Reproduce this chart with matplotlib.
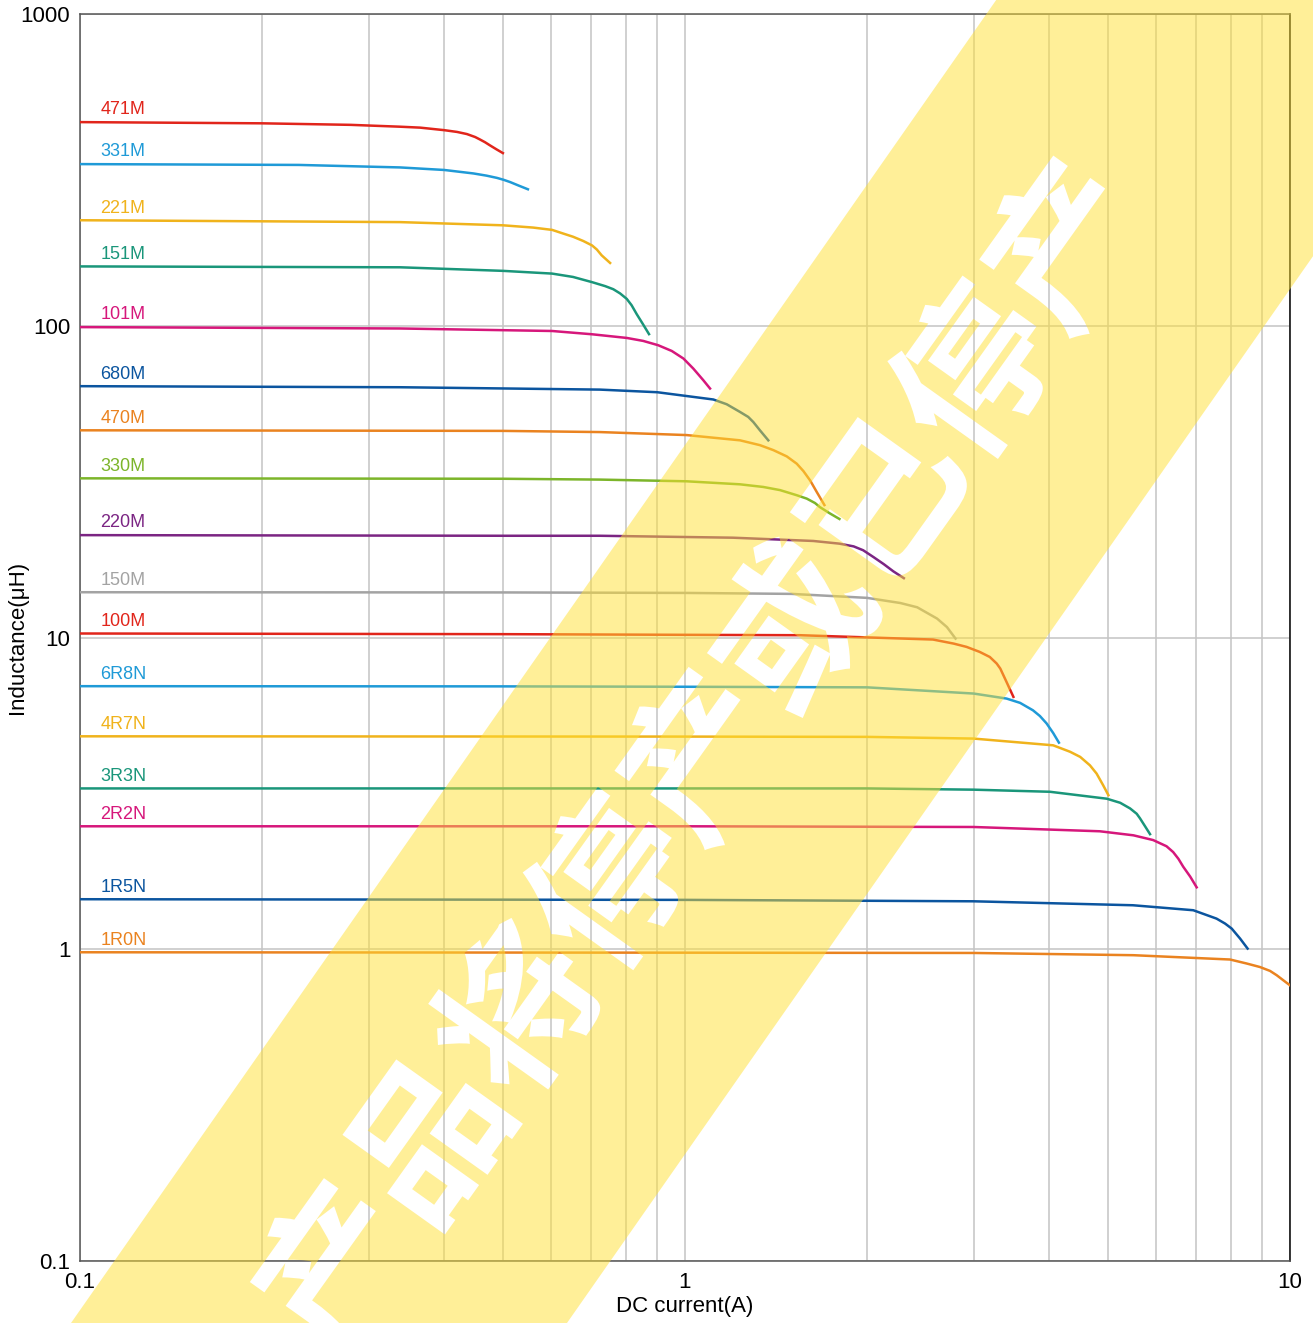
import numpy as np
import matplotlib
matplotlib.use("Agg")
import matplotlib.pyplot as plt
from matplotlib.path import Path
from matplotlib.patches import PathPatch
from matplotlib.textpath import TextPath
from matplotlib.font_manager import FontProperties
from matplotlib.transforms import Affine2D
from matplotlib.ticker import FixedLocator, LogLocator, NullLocator

plt.rcParams['font.family'] = ['Liberation Sans', 'DejaVu Sans']

W, H = 1313, 1323

# Courbes inductance / courant
labels = ["471M", "331M", "221M", "151M", "101M", "680M", "470M", "330M", "220M",
          "150M", "100M", "6R8N", "4R7N", "3R3N", "2R2N", "1R5N", "1R0N"]
colors = ["#e1251b", "#1f9ad7", "#f0b31c", "#1a967a", "#d6177b", "#0b559f", "#ea8320",
          "#7cb52a", "#7b2583", "#a3a3a3", "#e1251b", "#1f9ad7", "#f0b31c", "#1a967a",
          "#d6177b", "#0b559f", "#ea8320"]

currents = [
    [0.1, 0.2, 0.28, 0.338, 0.365, 0.40, 0.42, 0.436, 0.45, 0.458, 0.467, 0.476, 0.488, 0.50],
    [0.1, 0.23, 0.338, 0.40, 0.447, 0.470, 0.489, 0.501, 0.514, 0.530, 0.55],
    [0.1, 0.338, 0.5, 0.561, 0.603, 0.629, 0.653, 0.679, 0.702, 0.715, 0.728, 0.752],
    [0.1, 0.338, 0.5, 0.603, 0.653, 0.702, 0.738, 0.761, 0.781, 0.801, 0.816, 0.832, 0.851, 0.872],
    [0.1, 0.338, 0.603, 0.702, 0.801, 0.853, 0.903, 0.951, 0.994, 1.032, 1.072, 1.10],
    [0.1, 0.338, 0.723, 0.90, 1.114, 1.172, 1.233, 1.272, 1.297, 1.33, 1.373],
    [0.1, 0.5, 0.723, 1.006, 1.233, 1.33, 1.40, 1.473, 1.53, 1.569, 1.61, 1.651, 1.70],
    [0.1, 0.5, 0.723, 1.006, 1.233, 1.347, 1.436, 1.53, 1.589, 1.64, 1.671, 1.736, 1.80],
    [0.1, 0.5, 0.723, 1.20, 1.63, 1.80, 1.90, 1.97, 2.05, 2.13, 2.21, 2.30],
    [0.1, 0.5, 1.0, 1.5, 2.0, 2.27, 2.42, 2.61, 2.71, 2.80],
    [0.1, 0.5, 1.0, 1.55, 2.57, 2.78, 2.92, 3.07, 3.19, 3.275, 3.32, 3.40, 3.49],
    [0.1, 0.5, 1.0, 2.0, 3.0, 3.40, 3.58, 3.76, 3.86, 3.96, 4.06, 4.15],
    [0.1, 1.0, 2.0, 3.0, 4.06, 4.33, 4.50, 4.67, 4.79, 4.91, 5.01],
    [0.1, 1.0, 2.0, 3.0, 4.01, 4.98, 5.24, 5.44, 5.58, 5.65, 5.76, 5.87],
    [0.1, 1.0, 3.0, 4.85, 5.51, 5.94, 6.25, 6.41, 6.54, 6.66, 6.84, 7.01],
    [0.1, 1.0, 3.0, 5.5, 6.92, 7.56, 7.81, 8.01, 8.27, 8.51],
    [0.1, 1.0, 3.0, 5.51, 7.96, 8.48, 8.92, 9.27, 9.51, 9.75, 10.0],
]
inductances = [
    [450, 446, 441, 435, 432, 424, 418.5, 412, 403, 396, 388, 379, 368, 358],
    [330, 328, 322, 316, 308, 303, 298, 294, 289, 282, 274],
    [218, 215, 210, 206.5, 203, 197.6, 193, 187, 181, 175.6, 168.3, 159],
    [155, 154, 150, 147, 143.4, 138, 134, 131, 127, 122, 116.4, 109, 101.6, 94],
    [99, 98, 96.2, 93.9, 91.4, 89.4, 86.6, 83.0, 78.5, 72.9, 66.9, 62.9],
    [64, 63.5, 62.4, 61.2, 58.0, 56.0, 52.9, 51.0, 49.1, 46.2, 42.9],
    [46.2, 46.0, 45.6, 44.6, 42.9, 41.4, 39.9, 38.1, 36.1, 34.2, 31.9, 29.3, 26.6],
    [32.4, 32.3, 32.1, 31.7, 31.0, 30.4, 29.7, 28.6, 27.9, 27.0, 26.2, 25.0, 24.0],
    [21.3, 21.2, 21.2, 20.9, 20.4, 20.0, 19.6, 19.05, 18.1, 17.2, 16.3, 15.5],
    [13.97, 13.95, 13.9, 13.8, 13.4, 12.9, 12.5, 11.5, 10.8, 9.92],
    [10.3, 10.25, 10.2, 10.17, 9.85, 9.56, 9.33, 8.99, 8.66, 8.25, 7.95, 7.20, 6.45],
    [6.98, 6.97, 6.95, 6.92, 6.61, 6.37, 6.17, 5.84, 5.60, 5.30, 4.94, 4.60],
    [4.82, 4.81, 4.80, 4.74, 4.51, 4.30, 4.14, 3.89, 3.66, 3.36, 3.12],
    [3.28, 3.28, 3.28, 3.25, 3.20, 3.04, 2.95, 2.83, 2.72, 2.63, 2.48, 2.34],
    [2.48, 2.48, 2.467, 2.39, 2.32, 2.24, 2.14, 2.05, 1.95, 1.84, 1.71, 1.58],
    [1.447, 1.44, 1.425, 1.384, 1.334, 1.254, 1.209, 1.165, 1.082, 1.005],
    [0.978, 0.975, 0.973, 0.957, 0.927, 0.900, 0.877, 0.852, 0.825, 0.795, 0.766],
]

xticks = [0.1, 1, 10]
xtick_labels = ["0.1", "1", "10"]
yticks = [0.1, 1, 10, 100, 1000]
ytick_labels = ["0.1", "1", "10", "100", "1000"]

label_x = 0.108  # position des étiquettes de série
wm_text = "产品将停产或已停产"

fig = plt.figure(figsize=(W / 100, H / 100), dpi=100)
ax = fig.add_axes([80 / W, 1 - 1261 / H, 1210 / W, 1247 / H])
ax.set_xscale('log')
ax.set_yscale('log')
ax.set_xlim(0.1, 10)
ax.set_ylim(0.1, 1000)

for lab, col, cur, ind in zip(labels, colors, currents, inductances):
    ax.plot(cur, ind, color=col, lw=1.8, zorder=3, solid_joinstyle='round')
    ax.annotate(lab, xy=(label_x, ind[0]), xytext=(0, 5.5), textcoords='offset points',
                color=col, fontsize=13, ha='left', va='baseline')

ax.xaxis.set_major_locator(FixedLocator(xticks))
ax.set_xticklabels(xtick_labels)
ax.xaxis.set_minor_locator(LogLocator(base=10, subs=np.arange(2, 10)))
ax.yaxis.set_major_locator(FixedLocator(yticks))
ax.set_yticklabels(ytick_labels)
ax.yaxis.set_minor_locator(NullLocator())
ax.tick_params(which='both', length=0, labelsize=16)
ax.tick_params(axis='x', pad=8)
ax.tick_params(axis='y', pad=7)
ax.grid(True, which='both', axis='x', color='#c4c4c4', lw=1.1)
ax.grid(True, which='major', axis='y', color='#c4c4c4', lw=1.1)
for side in ['left', 'top', 'bottom']:
    ax.spines[side].set_color('#555555')
ax.spines['right'].set_color('black')
for sp in ax.spines.values():
    sp.set_linewidth(1.1)

ax.set_xlabel('DC current(A)', fontsize=16)
ax.xaxis.set_label_coords(0.5, -0.028)
ax.set_ylabel('Inductance(μH)', fontsize=16)
ax.yaxis.set_label_coords(-0.043, 0.5)

# Filigrane : bande jaune avec le texte en réserve
fp = FontProperties(family='Noto Sans CJK SC', weight='bold')
tp = TextPath((0, 0), wm_text, size=157, prop=fp)
ext = tp.get_extents()
tr = (Affine2D().translate(-(ext.x0 + ext.x1) / 2, -(ext.y0 + ext.y1) / 2)
      .rotate_deg(54.5).translate(696, H - 756))
glyphs = [tr.transform(p) for p in tp.to_polygons() if len(p) > 2]


def signed_area(p):
    x, y = p[:, 0], p[:, 1]
    return 0.5 * np.sum(x * np.roll(y, -1) - np.roll(x, -1) * y)


s, xl, xr, m = 1.43, 71, 567, 80
band = np.array([[xl - m / s, -m], [xr - m / s, -m],
                 [xr + (H + m) / s, H + m], [xl + (H + m) / s, H + m]])
outer = max(glyphs, key=lambda p: abs(signed_area(p)))
if signed_area(outer) > 0:
    glyphs = [p[::-1] for p in glyphs]

verts, codes = [], []
for p in [band] + glyphs:
    verts.extend(p)
    verts.append(p[0])
    codes += [Path.MOVETO] + [Path.LINETO] * (len(p) - 1) + [Path.CLOSEPOLY]
wm = PathPatch(Path(np.array(verts), codes), facecolor='#ffe033', alpha=0.5,
               edgecolor='none', transform=Affine2D().scale(1 / W, 1 / H) + fig.transFigure,
               zorder=10)
fig.add_artist(wm)

fig.savefig('out.png', dpi=100)
